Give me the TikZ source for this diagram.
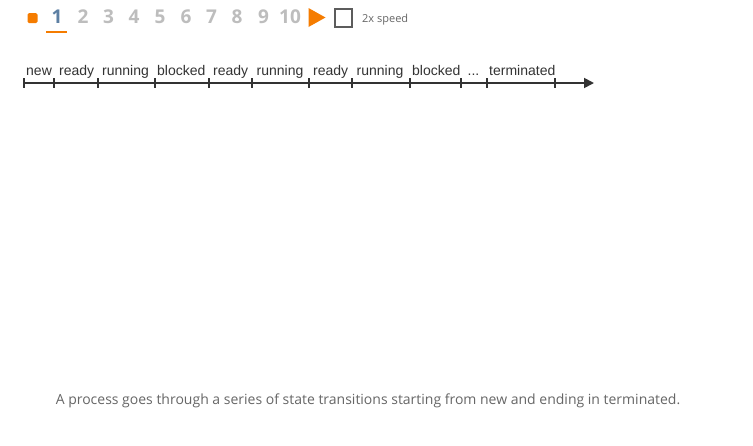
\documentclass[tikz,border=0pt]{standalone}
\usepackage{fontspec}
\setmainfont{Liberation Sans}
\newfontfamily\uifont{Open Sans}
\usetikzlibrary{arrows.meta}
\definecolor{accent}{HTML}{F57C00}
\definecolor{axis}{HTML}{333333}
\definecolor{stepgray}{HTML}{BDBDBD}
\definecolor{stepcur}{HTML}{5C7FA3}
\definecolor{captiongray}{HTML}{666666}
\newcommand{\ellip}{...}
\begin{document}
\begin{tikzpicture}[x=1pt,y=-1pt,
  stepnum/.style={font=\uifont\bfseries\fontsize{19}{19}\selectfont, text=stepgray, anchor=base, inner sep=0pt},
  statelabel/.style={font=\fontsize{14}{15}\selectfont, text=axis, anchor=base west, inner sep=0pt},
  tick/.style={draw=axis, line width=1.6pt},
]
\useasboundingbox (0,0) rectangle (753,445);
\fill[white] (0,0) rectangle (753,445);

% playback controls
\node[fill=accent, rounded corners=1.5pt, minimum size=10pt, inner sep=0pt] (stop) at (32.5,18) {};
\node[stepnum, text=stepcur] (s1) at (57,23) {1};
\coordinate (ulA) at (46,32);
\coordinate (ulB) at (67,32);
\draw[accent, line width=2pt] (ulA) -- (ulB);
\foreach \n/\x in {2/83,3/108.5,4/134,5/160,6/186,7/211.5,8/237,9/263.5,10/290}
  \node[stepnum] (s\n) at (\x,23) {\n};
\fill[accent] (308.5,8) -- (325.5,17.5) -- (308.5,27) -- cycle;
\node[draw=captiongray!90!black, line width=1.8pt, minimum size=17.5pt, inner sep=0pt] (check) at (343.5,18) {};
\node[font=\uifont\fontsize{11}{11}\selectfont, text=captiongray, anchor=base west, inner sep=0pt] (speed) at (362,22) {2x speed};

% timeline
\coordinate (start) at (23,83);
\coordinate (end) at (594,83);
\draw[axis, line width=1.8pt, -{Triangle[length=10pt,width=10pt]}] (start) -- (end);
\foreach \x in {24,54,98,155,209,252,309,352,410,461,487,555}
  \draw[tick] (\x,78) -- (\x,88);
\foreach \x/\t [count=\i] in {26/new,59/ready,102/running,157/blocked,213/ready,256.5/running,313/ready,356.5/running,412/blocked,467.5/\ellip,489/terminated}
  \node[statelabel] (lab\i) at (\x,75) {\t};

% caption
\node[font=\uifont\fontsize{14}{15}\selectfont, text=captiongray, anchor=base, inner sep=0pt] (caption) at (368,404)
  {A process goes through a series of state transitions starting from new and ending in terminated.};
\end{tikzpicture}
\end{document}
